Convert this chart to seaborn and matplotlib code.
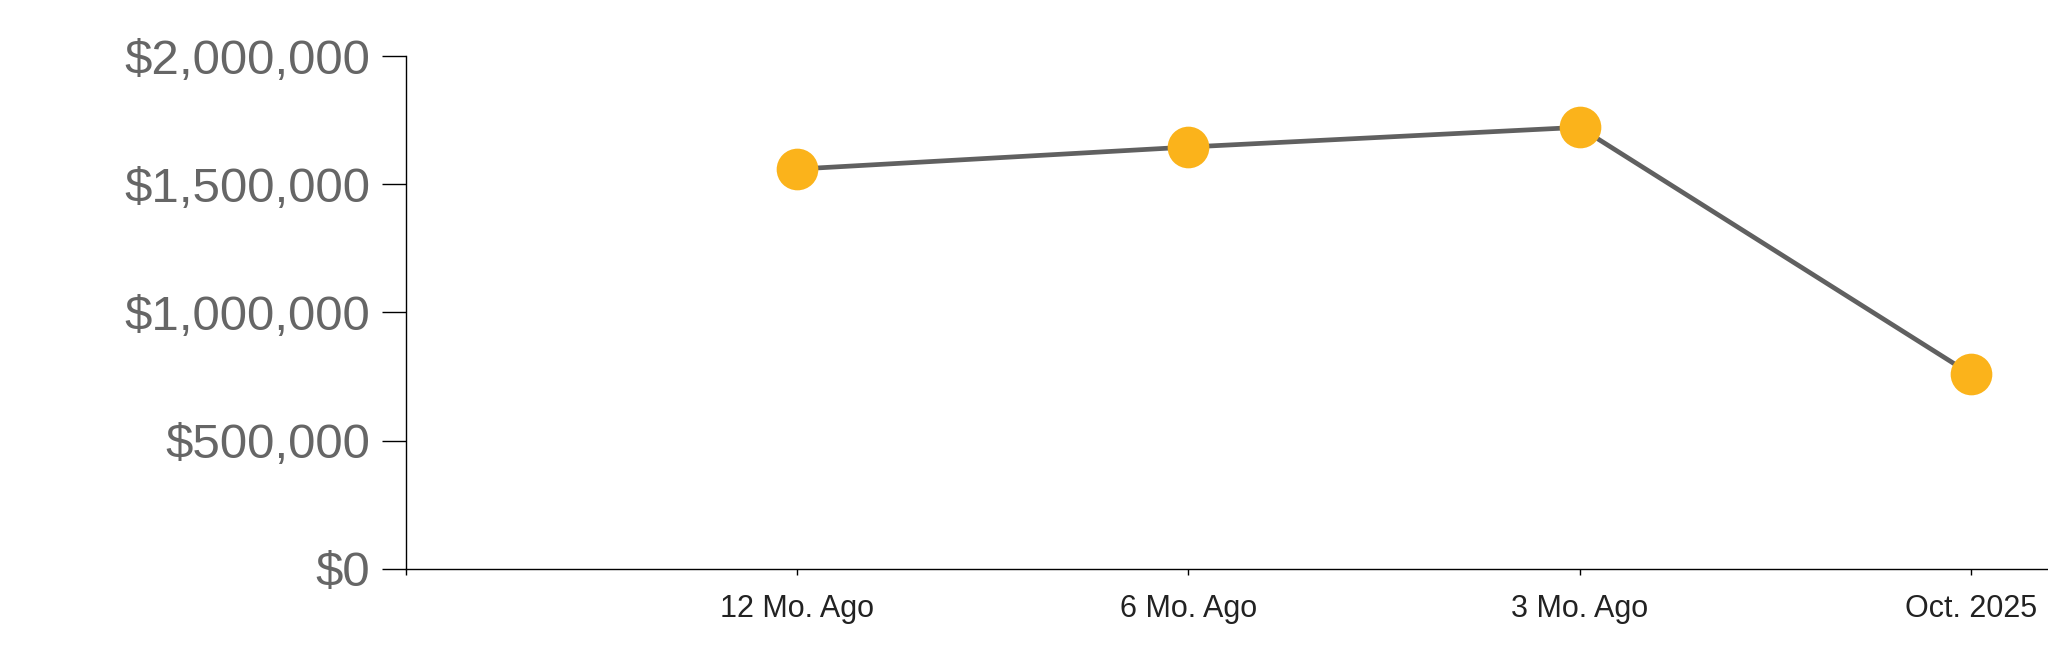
import matplotlib
matplotlib.use("Agg")
import matplotlib.pyplot as plt
import matplotlib.ticker as mticker
import seaborn as sns
import pandas as pd

# data
periods = ["12 Mo. Ago", "6 Mo. Ago", "3 Mo. Ago", "Oct. 2025"]
values = [1559000, 1645000, 1722000, 759500]
y_ticks = [0, 500000, 1000000, 1500000, 2000000]

sns.set_style("white")
plt.rcParams['font.family'] = ['Liberation Sans', 'DejaVu Sans']

df = pd.DataFrame({"pos": range(1, len(periods) + 1), "value": values})

fig = plt.figure(figsize=(20.48, 6.63), dpi=100)
ax = fig.add_axes([0.1984, 0.1422, 0.8016, 0.7733])

sns.lineplot(data=df, x="pos", y="value", ax=ax, color="#606060", linewidth=3.4,
             marker="o", markersize=30, markerfacecolor="#FBB31B",
             markeredgecolor="#FBB31B", markeredgewidth=0)

ax.set_xlim(0, 4.198)
ax.set_ylim(0, 2000000)
ax.set_xticks([0] + list(df["pos"]))
ax.set_xticklabels([""] + periods)
ax.set_yticks(y_ticks)
ax.yaxis.set_major_formatter(mticker.FuncFormatter(lambda v, p: "${:,.0f}".format(v)))

ax.tick_params(axis="y", length=17.6, width=1, pad=8.6, labelsize=35.5,
               labelcolor="#666666", color="black", left=True)
ax.tick_params(axis="x", length=4, width=1, pad=14, labelsize=22,
               labelcolor="#222222", color="black", bottom=True)

for s in ["top", "right"]:
    ax.spines[s].set_visible(False)
for s in ["left", "bottom"]:
    ax.spines[s].set_color("black")
    ax.spines[s].set_linewidth(1)

ax.set_xlabel("")
ax.set_ylabel("")
ax.grid(False)

fig.savefig("out.png", dpi=100)
